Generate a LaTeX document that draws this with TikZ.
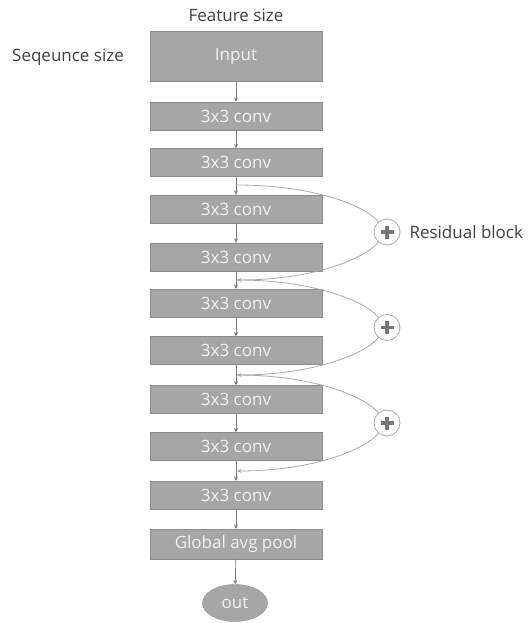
\documentclass[tikz,border=0pt]{standalone}
\usepackage{fontspec}
\setmainfont{Open Sans}
\usetikzlibrary{positioning,arrows.meta,shapes.geometric}

\definecolor{boxfill}{HTML}{A6A6A6}
\definecolor{boxline}{HTML}{8C8C8C}
\definecolor{boxtext}{HTML}{F2F2F2}
\definecolor{flowline}{HTML}{7F7F7F}
\definecolor{skipline}{HTML}{AAAAAA}
\definecolor{plusgray}{HTML}{767676}
\definecolor{labeltext}{HTML}{404040}

\begin{document}
\begin{tikzpicture}[x=1pt,y=-1pt,font=\fontsize{17}{20}\selectfont,
    >={Stealth[length=4.5pt,width=4pt]},
    layer/.style={draw=boxline,fill=boxfill,text=boxtext,minimum width=172pt,minimum height=28pt,inner sep=0pt},
    adder/.style={circle,draw=skipline,fill=white,line width=0.8pt,minimum size=26pt,inner sep=0pt,
        path picture={
            \fill[plusgray] ([xshift=-6.5pt,yshift=-1.6pt]path picture bounding box.center) rectangle ([xshift=6.5pt,yshift=1.6pt]path picture bounding box.center);
            \fill[plusgray] ([xshift=-1.6pt,yshift=-6.5pt]path picture bounding box.center) rectangle ([xshift=1.6pt,yshift=6.5pt]path picture bounding box.center);}},
    caption/.style={text=labeltext,anchor=base}]
    \useasboundingbox (0,0) rectangle (531,623);

    \node[caption] at (236,22) (featlbl) {Feature size};
    \node[caption] at (68,62) (seqlbl) {Seqeunce size};
    \node[layer,minimum height=50pt] at (236,56) (input) {Input};
    \node[layer] at (236,116) (conv1) {3x3 conv};
    \node[layer] at (236,162.5) (conv2) {3x3 conv};
    \node[layer] at (236,209) (conv3) {3x3 conv};
    \node[layer] at (236,257) (conv4) {3x3 conv};
    \node[layer] at (236,303) (conv5) {3x3 conv};
    \node[layer] at (236,350.5) (conv6) {3x3 conv};
    \node[layer] at (236,399.5) (conv7) {3x3 conv};
    \node[layer] at (236,446.5) (conv8) {3x3 conv};
    \node[layer] at (236,495) (conv9) {3x3 conv};
    \node[layer,minimum height=30pt] at (236,544) (pool) {Global avg pool};
    \node[ellipse,draw=boxline,fill=boxfill,text=boxtext,minimum width=65pt,minimum height=37pt,inner sep=0pt] at (235,603) (out) {out};

    % skip connections
    \coordinate (j1) at (237,185);
    \coordinate (j2) at (237,280);
    \coordinate (j3) at (237,375);
    \coordinate (j4) at (237,471);
    \node[adder] at (387,232) (add1) {};
    \node[adder] at (387,327.5) (add2) {};
    \node[adder] at (387,423) (add3) {};
    \node[caption,anchor=base west] at (406,238) (reslbl) {Residual block};

    \path[->, draw=flowline, line width=0.7pt]
    (input) edge (conv1)
    (conv1) edge (conv2)
    (conv2) edge (conv3)
    (conv3) edge (conv4)
    (conv4) edge (conv5)
    (conv5) edge (conv6)
    (conv6) edge (conv7)
    (conv7) edge (conv8)
    (conv8) edge (conv9)
    (conv9) edge (pool)
    (pool) edge (out)
    ;
    \path[draw=skipline, line width=0.8pt]
    (j1) edge [out=0, in=130, out distance=75pt, in distance=22pt] (add1)
    (add1) edge [->, out=230, in=0, out distance=22pt, in distance=75pt] (j2)
    (j2) edge [out=0, in=130, out distance=75pt, in distance=22pt] (add2)
    (add2) edge [->, out=230, in=0, out distance=22pt, in distance=75pt] (j3)
    (j3) edge [out=0, in=130, out distance=75pt, in distance=22pt] (add3)
    (add3) edge [->, out=230, in=0, out distance=22pt, in distance=75pt] (j4)
    ;
\end{tikzpicture}
\end{document}
